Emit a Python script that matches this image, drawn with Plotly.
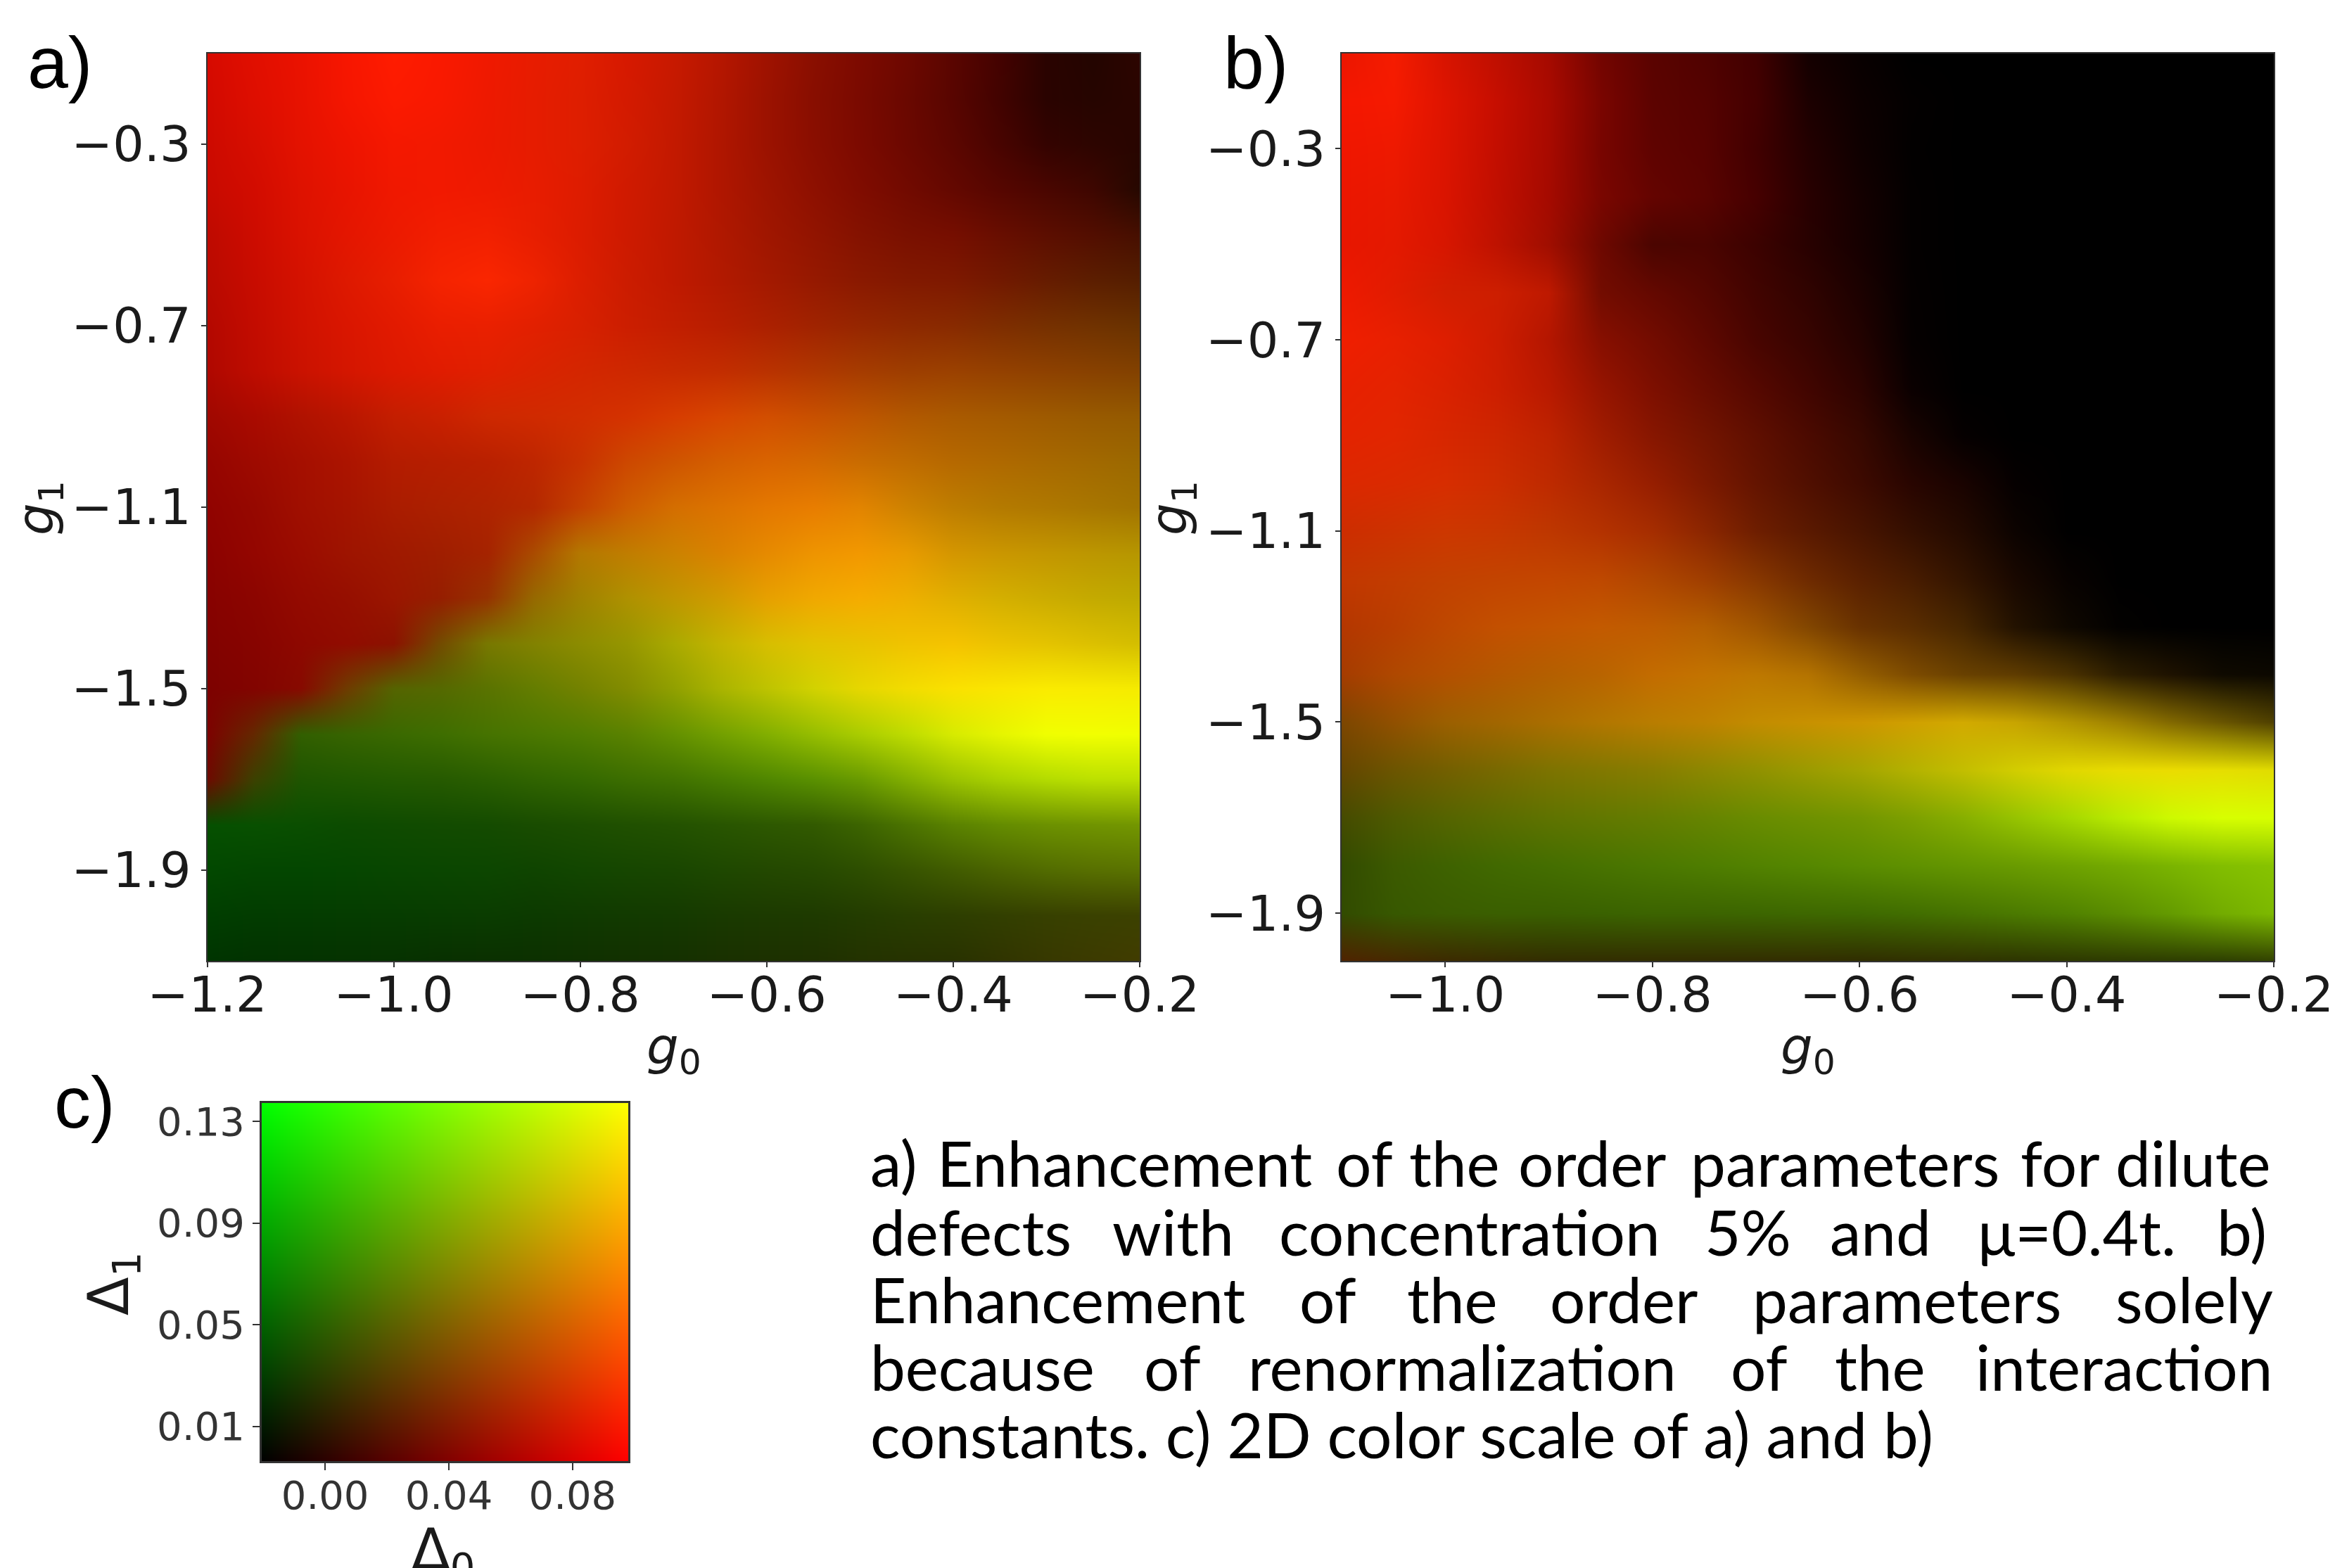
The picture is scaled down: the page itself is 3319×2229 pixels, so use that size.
import numpy as np
import plotly.graph_objects as go

W, H = 3319, 2229

# Panel a) grid
g0_a = [-1.2, -1.15, -1.1, -1.05, -1.0, -0.95, -0.9, -0.85, -0.8, -0.75, -0.7, -0.65, -0.6, -0.55, -0.5, -0.45, -0.4, -0.35, -0.3, -0.25, -0.2]
g1_a = [-0.1, -0.2, -0.3, -0.4, -0.5, -0.6, -0.7, -0.8, -0.9, -1.0, -1.1, -1.2, -1.3, -1.4, -1.5, -1.6, -1.7, -1.8, -1.9, -2.0, -2.1]
# Order parameters as levels 0-255 of the 2D colour scale (top row first)
delta0_a = [
 [215,225,235,248,255,250,240,232,225,215,200,182,160,138,125,110,90,68,42,35,45],
 [210,222,232,245,252,248,238,230,222,212,197,178,156,136,122,106,88,66,42,38,42],
 [205,215,228,238,245,242,236,230,222,210,195,176,156,138,124,108,92,72,52,45,40],
 [200,210,222,232,240,242,238,232,222,208,194,176,158,142,128,114,100,86,74,62,38],
 [190,205,218,228,236,242,242,232,220,206,192,176,160,146,132,122,118,104,92,82,70],
 [185,200,212,222,232,245,250,238,220,204,192,178,164,150,138,130,126,114,102,92,85],
 [180,195,208,218,226,234,234,226,216,204,194,184,172,160,150,142,136,126,118,112,105],
 [175,190,202,212,220,224,224,218,212,206,200,195,186,176,166,158,155,148,142,136,130],
 [160,170,176,186,196,202,206,208,210,212,215,215,210,200,190,178,170,164,158,152,148],
 [150,158,165,172,180,182,185,190,200,205,207,212,217,212,202,192,182,175,168,162,155],
 [145,150,160,165,170,172,175,180,195,205,212,220,228,232,226,206,190,180,175,168,162],
 [140,148,155,158,160,160,165,170,180,192,204,218,230,238,242,232,212,202,195,188,182],
 [135,140,148,150,155,150,150,150,160,175,192,208,230,240,245,238,224,212,204,196,190],
 [130,135,142,145,140,115,120,130,140,150,170,195,215,226,232,240,245,235,228,220,212],
 [125,130,135,110,85,85,90,100,115,130,145,170,190,210,230,242,250,250,250,248,245],
 [125,100,50,55,58,62,70,75,80,90,100,115,130,150,170,190,215,230,240,242,240],
 [110,60,30,32,35,38,42,48,52,60,65,72,80,90,105,130,155,170,180,188,190],
 [5,8,10,12,15,18,20,25,28,32,35,40,45,50,60,75,90,100,108,112,115],
 [2,3,3,5,8,10,12,15,18,22,25,30,35,38,45,55,65,75,82,88,90],
 [0,2,3,5,6,8,10,12,15,18,20,25,28,30,35,40,45,50,55,58,60],
 [0,2,3,5,6,8,10,12,15,18,20,25,28,30,35,38,40,48,55,60,65],
]
delta1_a = [
 [10,15,18,22,28,25,25,28,30,25,25,22,18,15,10,8,5,2,3,5,5],
 [10,14,18,22,26,25,25,28,30,26,25,22,18,14,10,8,5,3,3,5,5],
 [10,14,18,20,24,25,25,28,30,28,25,22,18,14,10,8,6,4,3,5,5],
 [10,12,18,20,24,25,26,28,28,26,25,22,20,16,12,10,8,6,6,6,8],
 [10,12,18,22,26,30,32,30,28,26,25,24,22,20,18,16,14,14,14,14,15],
 [10,12,18,25,30,35,38,35,30,28,25,25,25,25,25,25,25,25,28,30,30],
 [8,12,18,22,26,30,32,32,32,30,30,30,32,35,38,40,42,45,48,50,50],
 [8,12,18,22,25,28,32,35,38,40,42,45,50,55,60,62,65,65,65,65,65],
 [8,10,18,22,30,32,40,42,45,50,60,70,78,80,85,88,90,90,90,90,90],
 [5,10,15,20,28,30,32,38,50,72,85,95,100,105,108,108,105,105,105,105,105],
 [3,8,15,20,28,32,35,40,65,92,110,115,120,125,132,130,125,122,120,118,115],
 [2,6,12,20,25,30,35,75,120,125,130,130,138,148,152,155,150,150,150,150,150],
 [2,5,10,15,22,30,50,105,130,145,150,155,160,168,172,175,175,175,172,170,170],
 [2,4,8,12,18,75,120,130,140,150,170,180,190,195,195,195,195,195,195,192,190],
 [2,4,10,60,100,105,115,125,130,140,160,180,195,210,215,220,225,230,235,235,235],
 [2,40,95,100,105,110,115,120,125,130,145,160,175,190,205,220,235,245,255,255,255],
 [10,65,85,88,90,90,95,100,105,110,115,125,135,145,155,175,195,210,220,225,225],
 [80,80,78,75,75,75,75,76,78,80,82,85,88,90,100,115,130,140,145,148,150],
 [72,70,70,70,70,70,70,68,70,70,70,72,72,74,78,84,92,100,108,112,115],
 [62,60,60,60,60,60,60,58,58,58,58,58,58,58,60,62,62,63,64,65,65],
 [52,50,50,50,50,48,48,48,48,48,48,48,48,48,50,50,50,52,56,58,60],
]

# Panel b) grid
g0_b = [-1.1, -1.05, -1.0, -0.95, -0.9, -0.85, -0.8, -0.75, -0.7, -0.65, -0.6, -0.55, -0.5, -0.45, -0.4, -0.35, -0.3, -0.25, -0.2]
g1_b = [-0.1, -0.2, -0.3, -0.4, -0.5, -0.6, -0.7, -0.8, -0.9, -1.0, -1.1, -1.2, -1.3, -1.4, -1.5, -1.6, -1.7, -1.8, -1.9, -2.0]
delta0_b = [
 [235,245,215,190,165,115,90,80,65,20,8,0,0,0,0,0,0,0,0],
 [245,245,222,198,170,122,92,85,68,28,12,3,0,0,0,0,0,0,0],
 [240,238,220,195,168,120,95,88,65,35,15,2,0,0,0,0,0,0,0],
 [235,232,218,192,165,122,100,90,70,40,20,3,0,0,0,0,0,0,0],
 [232,228,215,190,160,110,75,75,60,40,22,3,0,0,0,0,0,0,0],
 [238,225,210,205,190,115,100,85,65,48,28,4,0,0,0,0,0,0,0],
 [240,232,222,205,180,135,115,95,72,55,35,5,0,0,0,0,0,0,0],
 [232,228,218,205,185,150,125,105,85,65,45,10,0,0,0,0,0,0,0],
 [228,225,215,205,190,160,135,115,95,75,55,25,5,0,0,0,0,0,0],
 [220,218,215,205,190,170,150,125,100,80,62,40,25,5,0,0,0,0,0],
 [205,205,205,200,190,180,165,140,110,90,72,52,35,12,0,0,0,0,0],
 [195,195,195,195,195,190,175,160,135,110,90,72,50,25,8,0,0,0,0],
 [180,185,190,195,195,195,190,180,160,130,105,90,70,35,15,3,0,0,0],
 [165,175,180,180,180,185,195,195,190,180,150,125,105,95,75,45,30,15,12],
 [125,145,155,162,170,178,185,190,195,200,205,208,210,200,180,160,130,105,80],
 [100,108,115,120,125,130,135,140,145,155,165,180,195,210,225,232,235,230,225],
 [70,78,85,90,95,98,100,102,105,110,115,125,135,150,165,185,205,215,215],
 [50,60,62,65,68,72,75,78,82,85,90,95,100,105,110,115,122,130,135],
 [50,55,58,58,58,58,60,60,60,62,62,65,70,75,80,90,100,115,125],
 [80,70,60,55,50,50,50,50,50,50,48,48,48,45,45,45,45,45,50],
]
delta1_b = [
 [22,28,20,15,10,5,3,2,0,0,0,0,0,0,0,0,0,0,0],
 [22,26,20,14,10,5,3,2,0,0,0,0,0,0,0,0,0,0,0],
 [22,25,20,14,10,5,3,2,0,0,0,0,0,0,0,0,0,0,0],
 [22,25,20,15,10,6,4,3,0,0,0,0,0,0,0,0,0,0,0],
 [22,25,22,18,14,8,5,4,2,1,0,0,0,0,0,0,0,0,0],
 [25,28,30,30,25,12,8,6,4,3,1,0,0,0,0,0,0,0,0],
 [30,32,30,28,22,15,12,8,5,4,2,0,0,0,0,0,0,0,0],
 [32,35,33,30,25,20,15,12,8,5,3,0,0,0,0,0,0,0,0],
 [35,38,38,38,35,28,22,20,15,10,8,3,0,0,0,0,0,0,0],
 [40,42,45,45,42,38,30,25,20,15,10,5,3,0,0,0,0,0,0],
 [45,50,55,55,55,50,45,38,30,25,20,15,10,3,0,0,0,0,0],
 [55,60,65,68,70,72,70,62,55,42,32,28,20,8,2,0,0,0,0],
 [55,62,72,80,85,90,92,95,85,70,50,45,38,18,8,1,0,0,0],
 [60,72,80,88,95,100,108,115,120,115,95,75,65,60,50,30,18,10,8],
 [70,80,95,102,110,118,125,130,140,145,150,160,170,165,150,130,105,85,65],
 [70,85,95,105,115,120,125,135,145,155,165,178,190,205,215,220,220,222,220],
 [75,90,100,108,115,120,125,132,140,145,150,160,175,195,215,235,250,255,255],
 [75,90,98,105,110,115,120,125,130,135,140,145,150,155,162,170,180,190,195],
 [75,88,92,95,95,98,100,100,102,104,106,110,115,122,130,140,155,172,185],
 [35,40,42,44,45,45,45,45,45,45,45,48,50,52,55,58,60,62,65],
]

# Panel c) 2D colour scale corners
delta0_c = [-0.0205, 0.098]
delta1_c = [-0.0036, 0.1373]
levels_c = [0, 255]

# Tick labels
ticks_g0_a = [-1.2, -1.0, -0.8, -0.6, -0.4, -0.2]
ticks_g0_b = [-1.0, -0.8, -0.6, -0.4, -0.2]
ticks_g1 = [-0.3, -0.7, -1.1, -1.5, -1.9]
ticks_d0 = [0.00, 0.04, 0.08]
ticks_d1 = [0.01, 0.05, 0.09, 0.13]

caption_lines = [
    (1688, [("a)", 30), ("Enhancement", 101), ("of", 520), ("the", 597), ("order", 712), ("parameters", 893), ("for", 1240), ("dilute", 1340)]),
    (1786, [("defects", 30), ("with", 285), ("concentration", 460), ("5%", 908), ("and", 1040), ("μ=0.4t.", 1195), ("b)", 1447)]),
    (1882, [("Enhancement", 30), ("of", 482), ("the", 595), ("order", 745), ("parameters", 958), ("solely", 1340)]),
    (1978, [("because", 30), ("of", 318), ("renormalization", 428), ("of", 935), ("the", 1045), ("interaction", 1193)]),
    (2074, [("constants. c) 2D color scale of a) and b)", 30)]),
]

for grid, nx, ny in [(delta0_a, 21, 21), (delta1_a, 21, 21), (delta0_b, 19, 20), (delta1_b, 19, 20)]:
    assert len(grid) == ny and all(len(r) == nx for r in grid)

RED = [[0, "rgb(0,0,0)"], [1, "rgb(255,0,0)"]]
GREEN = [[0, "rgb(0,0,0)"], [1, "rgb(0,255,0)"]]


def dom(a, b, size):
    return [a / size, b / size]


def ydom(top, bottom):
    return [1 - bottom / H, 1 - top / H]


fig = go.Figure()


def channels(x, y, red, green, xa, ya):
    for z, cs in [(red, RED), (green, GREEN)]:
        fig.add_trace(go.Heatmap(x=x, y=y, z=z, colorscale=cs, zmin=0, zmax=255,
                                 zsmooth="best", showscale=False, hoverinfo="skip",
                                 xaxis=xa, yaxis=ya))


channels(g0_a, g1_a[::-1], np.array(delta0_a)[::-1].tolist(), np.array(delta1_a)[::-1].tolist(), "x", "y")
channels(g0_b, g1_b[::-1], np.array(delta0_b)[::-1].tolist(), np.array(delta1_b)[::-1].tolist(), "x2", "y2")
channels(delta0_c, delta1_c, [levels_c, levels_c], [[levels_c[0]] * 2, [levels_c[1]] * 2], "x3", "y3")

TICK = dict(family="DejaVu Sans", size=70, color="#1a1a1a")
TICKC = dict(family="DejaVu Sans", size=56, color="#333333")


def axis(domain, rng, vals, text, anchor, font, ticklen=7, lw=2, lab=0):
    return dict(domain=domain, range=rng, tickmode="array", tickvals=vals, ticktext=text,
                anchor=anchor, tickfont=font, ticks="outside", ticklen=ticklen, tickwidth=2,
                tickcolor="#333333", showline=True, mirror=True, linecolor="#333333",
                linewidth=lw, showgrid=False, zeroline=False, automargin=False, ticklabelstandoff=lab)


fmt1 = lambda v: f"{v:.1f}".replace("-", "\u2212")
fmt2 = lambda v: f"{v:.2f}"

fig.update_layout(
    width=W, height=H, margin=dict(l=0, r=0, t=0, b=0), paper_bgcolor="white", plot_bgcolor="black",
    showlegend=False,
    xaxis=axis(dom(294.5, 1620, W), [-1.2, -0.2], ticks_g0_a, [fmt1(v) for v in ticks_g0_a], "y", TICK, lab=-21),
    yaxis=axis(ydom(75.5, 1366), [-2.1, -0.1], ticks_g1, [fmt1(v) for v in ticks_g1], "x", TICK),
    xaxis2=axis(dom(1907, 3232, W), [-1.1, -0.2], ticks_g0_b, [fmt1(v) for v in ticks_g0_b], "y2", TICK, lab=-21),
    yaxis2=axis(ydom(75.5, 1366), [-2.0, -0.1], ticks_g1, [fmt1(v) for v in ticks_g1], "x2", TICK),
    xaxis3=axis(dom(372, 893, W), delta0_c, ticks_d0, [fmt2(v) for v in ticks_d0], "y3", TICKC, ticklen=10, lw=3, lab=-12),
    yaxis3=axis(ydom(1568, 2077), delta1_c, ticks_d1, [fmt2(v) for v in ticks_d1], "x3", TICKC, ticklen=10, lw=3),
)


def note(text, x, baseline, size, family, lift=0.3):
    fig.add_annotation(text=text, xref="paper", yref="paper", x=x / W,
                       y=1 - (baseline - lift * size) / H, xanchor="left", yanchor="middle",
                       showarrow=False, borderpad=0, font=dict(family=family, size=size, color="black"))


def title(text, cx, cy, size, angle=0):
    fig.add_annotation(text=text, xref="paper", yref="paper", x=cx / W, y=1 - cy / H,
                       xanchor="center", yanchor="middle", showarrow=False, borderpad=0,
                       textangle=angle, font=dict(family="DejaVu Sans", size=size, color="#1a1a1a"))


note("a)", 38, 120, 104, "Liberation Sans")
note("b)", 1738, 120, 104, "Liberation Sans")
note("c)", 76, 1598, 104, "Liberation Sans")

title("<i>g</i><sub>0</sub>", 958, 1492, 72)
title("<i>g</i><sub>0</sub>", 2570, 1492, 72)
title("<i>g</i><sub>1</sub>", 55, 722, 72, -90)
title("<i>g</i><sub>1</sub>", 1666, 722, 72, -90)
title("Δ<sub>0</sub>", 630, 2208, 80)
title("Δ<sub>1</sub>", 160, 1825, 80, -90)

for baseline, words in caption_lines:
    for word, d in words:
        note(word, 1195 + d * 1.3514, baseline, 89, "Lato", lift=0.395)

post = """
document.body.style.margin='0';
document.body.style.overflow='hidden';
var s=document.createElement('style');
s.textContent='.heatmaplayer image{mix-blend-mode:screen;}';
document.head.appendChild(s);
"""
fig.write_html("out.html", post_script=post, config=dict(displayModeBar=False))
